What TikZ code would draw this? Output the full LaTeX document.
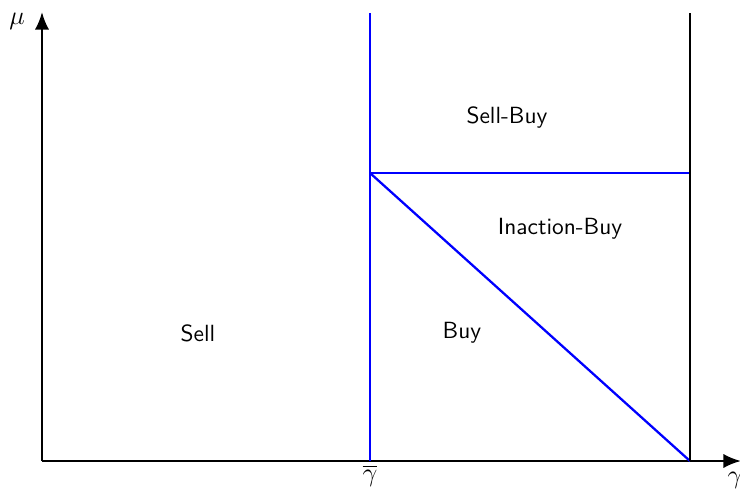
\documentclass[tikz,border=0pt]{standalone}
\usetikzlibrary{arrows.meta}
\begin{document}
\begin{tikzpicture}[x=0.457pt,y=-0.457pt,
  axis/.style={line width=1.1pt,black},
  axarrow/.style={axis,-{Latex[length=8pt,width=6.5pt]}},
  bline/.style={line width=1.05pt,blue},
  kline/.style={line width=1.1pt,black},
  region/.style={font=\sffamily\fontsize{10.7}{13}\selectfont},
  lab/.style={inner sep=0pt,font=\large}]
\useasboundingbox (0,0) rectangle (740,489);
\coordinate (O) at (42,461);
\coordinate (Ytop) at (42,12);
\coordinate (Xend) at (741,461);
\coordinate (Gb) at (370,461);
\coordinate (Gt) at (370,13);
\coordinate (K) at (370,173);
\coordinate (R) at (690,173);
\coordinate (Rb) at (690,461);
\coordinate (Rt) at (690,13);
\draw[axarrow] (O) -- (Ytop);
\draw[axarrow] (O) -- (Xend);
\draw[bline] (Gb) -- (Gt);
\draw[bline] (K) -- (R);
\draw[bline] (K) -- (Rb);
\draw[kline] (Rb) -- (Rt);
\node[lab] (mu) at (17,21) {$\mu$};
\node[lab] (gam) at (735,480) {$\gamma$};
\node[lab] (gbar) at (370,476) {$\overline{\gamma}$};
\node[region] (sell) at (198,333) {Sell};
\node[region] (buy) at (462,333) {Buy};
\node[region] (ib) at (560,229) {Inaction-Buy};
\node[region] (sb) at (507,118) {Sell-Buy};
\end{tikzpicture}
\end{document}
